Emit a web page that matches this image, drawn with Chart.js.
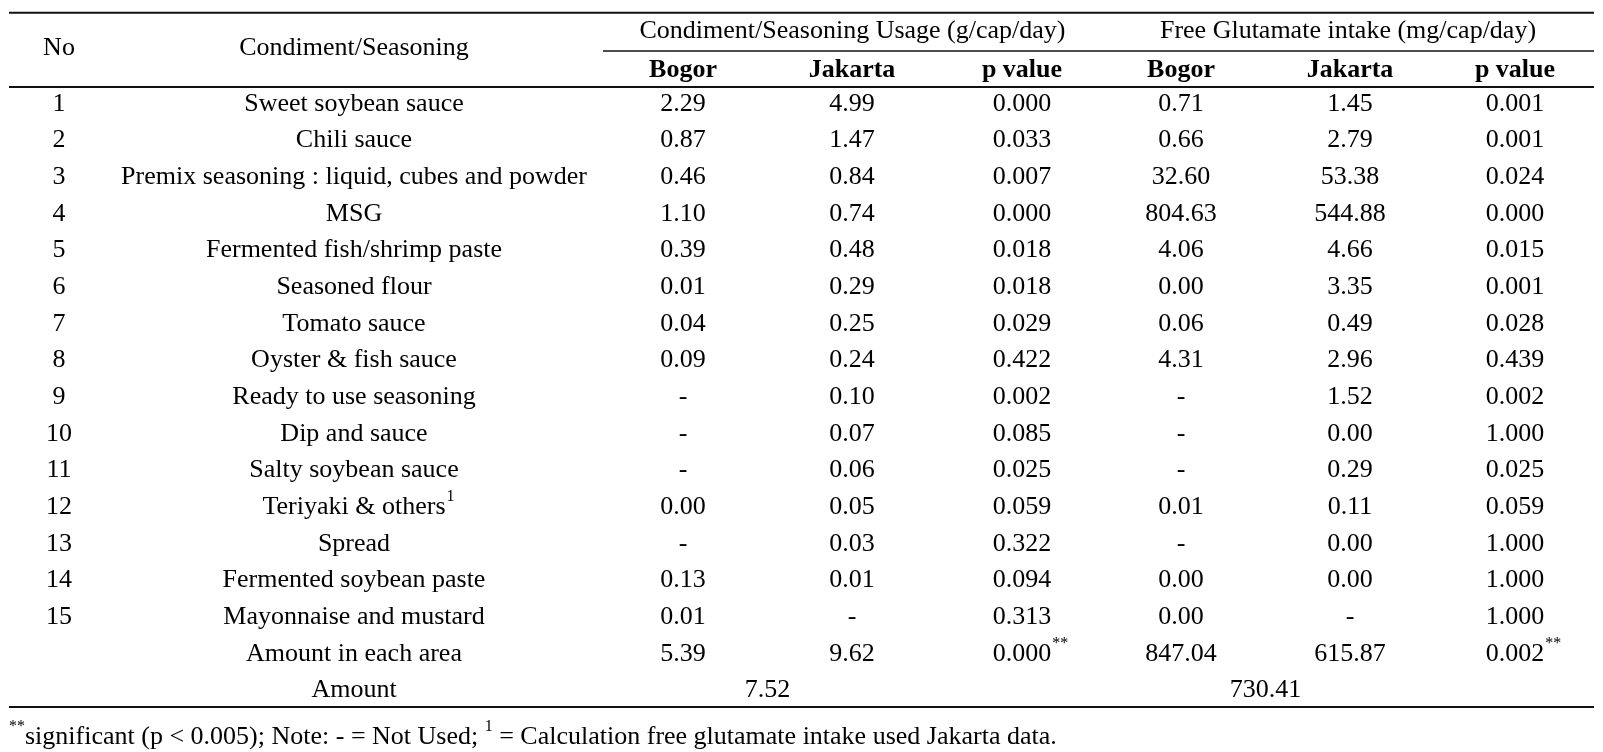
<!DOCTYPE html>
<html>
<head>
<meta charset="utf-8">
<script src="https://cdn.jsdelivr.net/npm/chart.js@4.4.1/dist/chart.umd.min.js"></script>
<style>
  html, body { margin: 0; padding: 0; background: #fff; }
  #wrap { width: 1603px; height: 752px; position: relative; }
</style>
</head>
<body>
<div id="wrap"><canvas id="tabelaGlutamato"></canvas></div>
<script>
const numeros = ['1', '2', '3', '4', '5', '6', '7', '8', '9', '10', '11', '12', '13', '14', '15'];
const condimentos = ['Sweet soybean sauce', 'Chili sauce', 'Premix seasoning : liquid, cubes and powder', 'MSG',
    'Fermented fish/shrimp paste', 'Seasoned flour', 'Tomato sauce', 'Oyster & fish sauce', 'Ready to use seasoning',
    'Dip and sauce', 'Salty soybean sauce', 'Teriyaki & others', 'Spread', 'Fermented soybean paste', 'Mayonnaise and mustard'];
const usoBogor = ['2.29', '0.87', '0.46', '1.10', '0.39', '0.01', '0.04', '0.09', '-', '-', '-', '0.00', '-', '0.13', '0.01'];
const usoJakarta = ['4.99', '1.47', '0.84', '0.74', '0.48', '0.29', '0.25', '0.24', '0.10', '0.07', '0.06', '0.05', '0.03', '0.01', '-'];
const usoP = ['0.000', '0.033', '0.007', '0.000', '0.018', '0.018', '0.029', '0.422', '0.002', '0.085', '0.025', '0.059', '0.322', '0.094', '0.313'];
const glutBogor = ['0.71', '0.66', '32.60', '804.63', '4.06', '0.00', '0.06', '4.31', '-', '-', '-', '0.01', '-', '0.00', '0.00'];
const glutJakarta = ['1.45', '2.79', '53.38', '544.88', '4.66', '3.35', '0.49', '2.96', '1.52', '0.00', '0.29', '0.11', '0.00', '0.00', '-'];
const glutP = ['0.001', '0.001', '0.024', '0.000', '0.015', '0.001', '0.028', '0.439', '0.002', '1.000', '0.025', '0.059', '1.000', '1.000', '1.000'];
const totalUso = ['5.39', '9.62', '0.000'];
const totalGlut = ['847.04', '615.87', '0.002'];
const somaUso = '7.52';
const somaGlut = '730.41';
const gruposCabecalho = ['Condiment/Seasoning Usage (g/cap/day)', 'Free Glutamate intake (mg/cap/day)'];
const subCabecalho = ['Bogor', 'Jakarta', 'p value'];

/* LAYOUT - posições na escala da tabela (0..1603 x 0..752) */
const COL = { no: 59, nome: 354, ub: 683, uj: 852, up: 1022, gb: 1181, gj: 1350, gp: 1515 };
const LINHA0 = 104, PASSO = 36.65;
const linhaY = i => LINHA0 + i * PASSO;
const Y_GRUPO = 31, Y_SUB = 70, Y_NO = 48;
const REGUAS = [
    { x0: 9, x1: 1594, y: 12.7, w: 2 },
    { x0: 603, x1: 1594, y: 51, w: 1.6 },
    { x0: 9, x1: 1594, y: 87, w: 2 },
    { x0: 9, x1: 1594, y: 707, w: 2 }
];
const Y_NOTA = 737;
const FONTE = '"Liberation Serif", "Times New Roman", serif';
const TAM = 26;

/* monta células: cada uma vira um ponto do gráfico */
const celulas = [];
function celula(x, y, texto, extra) {
    celulas.push(Object.assign({ x: x, y: y, texto: texto }, extra || {}));
}
celula(COL.no, Y_NO, 'No');
celula(COL.nome, Y_NO, 'Condiment/Seasoning');
celula((COL.ub + COL.up) / 2, Y_GRUPO, gruposCabecalho[0]);
celula((COL.gb + COL.gp) / 2, Y_GRUPO, gruposCabecalho[1]);
[COL.ub, COL.uj, COL.up].forEach((x, k) => celula(x, Y_SUB, subCabecalho[k], { negrito: true }));
[COL.gb, COL.gj, COL.gp].forEach((x, k) => celula(x, Y_SUB, subCabecalho[k], { negrito: true }));
numeros.forEach((n, i) => {
    const y = linhaY(i);
    celula(COL.no, y, n);
    celula(COL.nome, y, condimentos[i], condimentos[i] === 'Teriyaki & others' ? { sup: '1' } : null);
    celula(COL.ub, y, usoBogor[i]);
    celula(COL.uj, y, usoJakarta[i]);
    celula(COL.up, y, usoP[i]);
    celula(COL.gb, y, glutBogor[i]);
    celula(COL.gj, y, glutJakarta[i]);
    celula(COL.gp, y, glutP[i]);
});
const yTotal = linhaY(15), ySoma = linhaY(16);
celula(COL.nome, yTotal, 'Amount in each area');
celula(COL.ub, yTotal, totalUso[0]);
celula(COL.uj, yTotal, totalUso[1]);
celula(COL.up, yTotal, totalUso[2], { sup: '**' });
celula(COL.gb, yTotal, totalGlut[0]);
celula(COL.gj, yTotal, totalGlut[1]);
celula(COL.gp, yTotal, totalGlut[2], { sup: '**' });
celula(COL.nome, ySoma, 'Amount');
celula((COL.ub + COL.uj) / 2, ySoma, somaUso);
celula((COL.gb + COL.gj) / 2, ySoma, somaGlut);

/* nota de rodapé: pedaços em sequência, alinhados à esquerda */
const nota = [
    { t: '**', sup: true },
    { t: 'significant (p < 0.005); Note: - = Not Used; ' },
    { t: '1', sup: true },
    { t: ' = Calculation free glutamate intake used Jakarta data.' }
];

const pluginTexto = {
    id: 'textoTabela',
    afterDatasetsDraw(chart) {
        const ctx = chart.ctx;
        const meta = chart.getDatasetMeta(0);
        ctx.save();
        ctx.fillStyle = '#000';
        ctx.textBaseline = 'middle';
        meta.data.forEach((el, i) => {
            const c = celulas[i];
            ctx.font = (c.negrito ? 'bold ' : '') + TAM + 'px ' + FONTE;
            ctx.textAlign = 'center';
            ctx.fillText(c.texto, el.x, el.y);
            if (c.sup) {
                const w = ctx.measureText(c.texto).width;
                ctx.font = Math.round(TAM * 0.6) + 'px ' + FONTE;
                ctx.textAlign = 'left';
                ctx.fillText(c.sup, el.x + w / 2 + 1, el.y - TAM * 0.38);
            }
        });
        const sx = chart.scales.x, sy = chart.scales.y;
        let x = sx.getPixelForValue(9);
        const y = sy.getPixelForValue(Y_NOTA);
        ctx.textAlign = 'left';
        nota.forEach(p => {
            ctx.font = (p.sup ? Math.round(TAM * 0.6) : TAM) + 'px ' + FONTE;
            ctx.fillText(p.t, x, p.sup ? y - TAM * 0.38 : y);
            x += ctx.measureText(p.t).width;
        });
        ctx.restore();
    }
};

const tabela = document.getElementById('tabelaGlutamato');

new Chart(tabela, {
    type: 'scatter',
    data: {
        datasets: [{
            label: 'células',
            data: celulas.map(c => ({ x: c.x, y: c.y })),
            pointRadius: 0,
            pointHoverRadius: 0
        }].concat(REGUAS.map(r => ({
            type: 'line',
            label: 'régua',
            data: [{ x: r.x0, y: r.y }, { x: r.x1, y: r.y }],
            borderColor: '#111',
            borderWidth: r.w,
            pointRadius: 0,
            showLine: true
        })))
    },
    options: {
        responsive: true,
        maintainAspectRatio: false,
        animation: false,
        events: [],
        layout: { padding: 0 },
        scales: {
            x: { type: 'linear', min: 0, max: 1603, display: false },
            y: { type: 'linear', min: 0, max: 752, reverse: true, display: false }
        },
        plugins: {
            legend: { display: false },
            tooltip: { enabled: false },
            title: { display: false }
        }
    },
    plugins: [pluginTexto]
});
</script>
</body>
</html>
